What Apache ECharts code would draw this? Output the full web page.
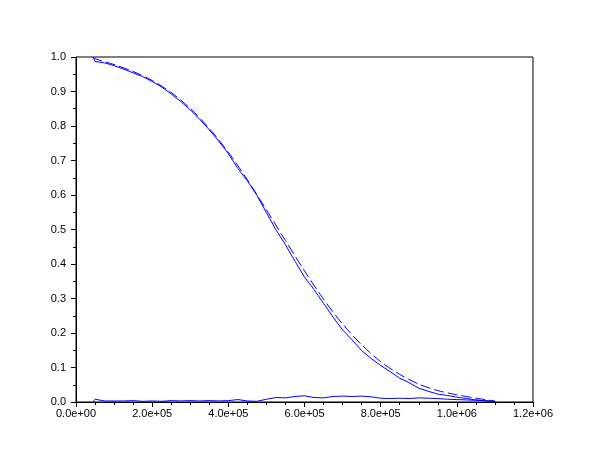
<!DOCTYPE html>
<html>
<head>
<meta charset="utf-8">
<script src="https://cdn.jsdelivr.net/npm/echarts@6/dist/echarts.min.js"></script>
<style>html,body{margin:0;padding:0;background:#fff}#c{width:610px;height:460px}</style>
</head>
<body>
<div id="c"></div>
<script>
// x positions (fine) for empirical curve and difference
var xFine = [45000, 50000, 75000, 100000, 125000, 150000, 175000, 200000, 225000, 250000, 275000, 300000, 325000, 350000, 375000, 400000, 425000, 450000, 475000, 500000, 525000, 550000, 575000, 600000, 625000, 650000, 675000, 700000, 725000, 750000, 775000, 800000, 825000, 850000, 875000, 900000, 925000, 950000, 975000, 1000000, 1025000, 1050000, 1075000, 1100000];
var empirical = [1.000, 0.987, 0.983, 0.975, 0.965, 0.954, 0.943, 0.929, 0.913, 0.893, 0.871, 0.847, 0.819, 0.789, 0.756, 0.720, 0.677, 0.641, 0.599, 0.549, 0.499, 0.456, 0.408, 0.362, 0.326, 0.286, 0.246, 0.209, 0.180, 0.149, 0.126, 0.106, 0.088, 0.069, 0.056, 0.040, 0.031, 0.023, 0.019, 0.014, 0.010, 0.006, 0.003, 0.001];
var difference = [0.001, 0.008, 0.003, 0.003, 0.003, 0.004, 0.002, 0.003, 0.002, 0.004, 0.003, 0.004, 0.003, 0.004, 0.003, 0.004, 0.007, 0.003, 0.002, 0.008, 0.013, 0.012, 0.016, 0.018, 0.013, 0.012, 0.016, 0.017, 0.016, 0.017, 0.015, 0.011, 0.010, 0.011, 0.010, 0.012, 0.011, 0.010, 0.008, 0.007, 0.006, 0.005, 0.004, 0.002];
// smooth (theoretical) curve
var xSmooth = [45000, 50000, 100000, 150000, 200000, 250000, 300000, 350000, 400000, 450000, 500000, 550000, 600000, 650000, 700000, 750000, 800000, 850000, 900000, 950000, 1000000, 1050000, 1100000];
var theoretical = [1.000, 0.995, 0.978, 0.958, 0.932, 0.897, 0.851, 0.793, 0.724, 0.644, 0.557, 0.468, 0.380, 0.298, 0.226, 0.166, 0.117, 0.080, 0.052, 0.033, 0.021, 0.011, 0.003];
var xTickLabels = ["0.0e+00", "2.0e+05", "4.0e+05", "6.0e+05", "8.0e+05", "1.0e+06", "1.2e+06"];
var yTickLabels = ["0.0", "0.1", "0.2", "0.3", "0.4", "0.5", "0.6", "0.7", "0.8", "0.9", "1.0"];

function pairs(xs, ys) { return xs.map(function (x, i) { return [x, ys[i]]; }); }

var chart = echarts.init(document.getElementById('c'), null, { renderer: 'canvas' });
var font = 'Liberation Sans, Arial, sans-serif';
chart.setOption({
  animation: false,
  backgroundColor: '#ffffff',
  grid: { left: 76, right: 77, top: 57, bottom: 58, show: true, borderColor: '#000', borderWidth: 1, backgroundColor: 'transparent' },
  xAxis: {
    type: 'value', min: 0, max: 1200000, interval: 200000,
    axisLine: { show: true, lineStyle: { color: '#000', width: 1 } },
    axisTick: { show: true, inside: false, length: 5, lineStyle: { color: '#000' } },
    minorTick: { show: true, splitNumber: 4, length: 3, lineStyle: { color: '#000' } },
    splitLine: { show: false },
    axisLabel: { color: '#000', fontSize: 11, fontFamily: font, margin: 6,
      formatter: function (v) { return xTickLabels[Math.round(v / 200000)]; } }
  },
  yAxis: {
    type: 'value', min: 0, max: 1, interval: 0.1,
    axisLine: { show: true, lineStyle: { color: '#000', width: 1 } },
    axisTick: { show: true, inside: false, length: 5, lineStyle: { color: '#000' } },
    minorTick: { show: true, splitNumber: 2, length: 3, lineStyle: { color: '#000' } },
    splitLine: { show: false },
    axisLabel: { color: '#000', fontSize: 11, fontFamily: font, margin: 10,
      formatter: function (v) { return yTickLabels[Math.round(v * 10)]; } }
  },
  series: [
    { type: 'line', data: pairs(xFine, empirical), showSymbol: false, symbol: 'none',
      lineStyle: { color: '#0000ff', width: 1 } },
    { type: 'line', data: pairs(xSmooth, theoretical), showSymbol: false, symbol: 'none', smooth: 0.3,
      lineStyle: { color: '#0000ff', width: 1, type: [10, 4] } },
    { type: 'line', data: pairs(xFine, difference), showSymbol: false, symbol: 'none',
      lineStyle: { color: '#0000ff', width: 1 } }
  ]
});
</script>
</body>
</html>
